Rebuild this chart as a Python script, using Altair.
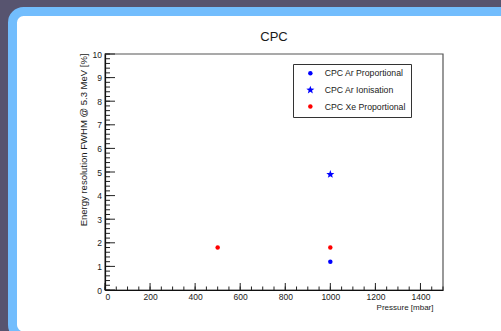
import math
import altair as alt
import pandas as pd

# ---- data ----
series = ["CPC Ar Proportional", "CPC Ar Ionisation", "CPC Xe Proportional", "CPC Xe Proportional"]
pressure = [1000, 1000, 500, 1000]
fwhm = [1.2, 4.9, 1.8, 1.8]

legend_order = ["CPC Ar Proportional", "CPC Ar Ionisation", "CPC Xe Proportional"]
x_major = [0, 200, 400, 600, 800, 1000, 1200, 1400]
x_minor = [v for v in range(0, 1501, 50)]
y_major = [0, 1, 2, 3, 4, 5, 6, 7, 8, 9, 10]
y_minor = [round(i * 0.2, 1) for i in range(0, 51)]

W, H = 338, 236
FONT = "Liberation Sans"
TXT = "#1a1a1a"

# 5-point star path (style only)
pts = []
for k in range(10):
    r = 1.9 if k % 2 == 0 else 0.8
    a = math.radians(-90 + 36 * k)
    pts.append(f"{r*math.cos(a):.3f},{r*math.sin(a):.3f}")
star = "M" + " L".join(pts) + " Z"

df = pd.DataFrame({"series": series, "pressure": pressure, "fwhm": fwhm})
one = pd.DataFrame({"a": [0]})

xs = alt.Scale(domain=[0, 1500], nice=False, zero=False)
ys = alt.Scale(domain=[0, 10], nice=False, zero=False)

xaxis = alt.Axis(values=x_major, format="d", ticks=False, tickSize=0, grid=False,
                 domainColor="#111", domainWidth=1.2, labelFontSize=8.5,
                 labelColor=TXT, labelFont=FONT, labelPadding=2, zindex=2,
                 labelOverlap=False,
                 title="Pressure [mbar]", titleFont=FONT, titleFontSize=8,
                 titleFontWeight="normal", titleColor=TXT, titleAlign="right",
                 titleAnchor="end", titleX=328, titleY=17, titleBaseline="middle")
yaxis = alt.Axis(values=y_major, format="d", ticks=False, tickSize=0, grid=False,
                 domainColor="#111", domainWidth=1.2, labelFontSize=8.5,
                 labelColor=TXT, labelFont=FONT, labelPadding=3.5, zindex=2,
                 labelOverlap=False,
                 title="Energy resolution FWHM @ 5.3 MeV [%]", titleFont=FONT,
                 titleFontSize=9.5, titleFontWeight="normal", titleColor=TXT,
                 titleAngle=-90, titleAlign="right", titleBaseline="middle",
                 titleX=-21.5, titleY=-1)

# decorative panel (rounded white card with blue border)
card = alt.Chart(one).mark_rect(
    fill="white", stroke="#72bdfd", strokeWidth=9, cornerRadius=11
).encode(
    x=alt.value(-92.5), x2=alt.value(409), y=alt.value(-42.5), y2=alt.value(282)
)

frame = alt.Chart(one).mark_rect(fill=None, stroke="#555555", strokeWidth=1.2).encode(
    x=alt.value(0), x2=alt.value(W), y=alt.value(0), y2=alt.value(H)
)

leg = alt.Legend(title=None, orient="none", legendX=188, legendY=10,
                 labelFont=FONT, labelFontSize=8.7, labelColor=TXT,
                 padding=5, rowPadding=6.6, strokeColor="#333",
                 fillColor="white", symbolSize=20, symbolStrokeWidth=0,
                 symbolOffset=8, labelOffset=10, zindex=3)

points = alt.Chart(df).mark_point(filled=True, size=20, opacity=1).encode(
    x=alt.X("pressure:Q", scale=xs, axis=xaxis),
    y=alt.Y("fwhm:Q", scale=ys, axis=yaxis),
    color=alt.Color("series:N", scale=alt.Scale(domain=legend_order, range=["#0000ff", "#0000ff", "#ff0000"]),
                    legend=leg),
    shape=alt.Shape("series:N", scale=alt.Scale(domain=legend_order, range=["circle", star, "circle"]),
                    legend=leg),
)

xmaj = alt.Chart(pd.DataFrame({"v": x_major})).mark_rule(color="#222", strokeWidth=1).encode(
    x=alt.X("v:Q", scale=xs, axis=xaxis), y=alt.value(H), y2=alt.value(H - 7)
)
xmin = alt.Chart(pd.DataFrame({"v": x_minor})).mark_rule(color="#222", strokeWidth=1).encode(
    x=alt.X("v:Q", scale=xs, axis=xaxis), y=alt.value(H), y2=alt.value(H - 3.5)
)
ymaj = alt.Chart(pd.DataFrame({"v": y_major})).mark_rule(color="#222", strokeWidth=1).encode(
    y=alt.Y("v:Q", scale=ys, axis=yaxis), x=alt.value(0), x2=alt.value(10)
)
ymin = alt.Chart(pd.DataFrame({"v": y_minor})).mark_rule(color="#222", strokeWidth=1).encode(
    y=alt.Y("v:Q", scale=ys, axis=yaxis), x=alt.value(0), x2=alt.value(5)
)

title = alt.Chart(one).mark_text(text="CPC", font=FONT, fontSize=13, color=TXT,
                                 align="center", baseline="alphabetic").encode(
    x=alt.value(W / 2), y=alt.value(-13.5)
)

chart = alt.layer(card, frame, points, xmin, xmaj, ymin, ymaj, title).properties(
    width=W, height=H,
    autosize=alt.AutoSizeParams(type="none"),
    padding={"left": 105, "top": 54, "right": 58, "bottom": 41},
    background="#57546f",
).configure_view(stroke=None)

chart.save("out.html", embed_options={"renderer": "svg", "actions": False})
